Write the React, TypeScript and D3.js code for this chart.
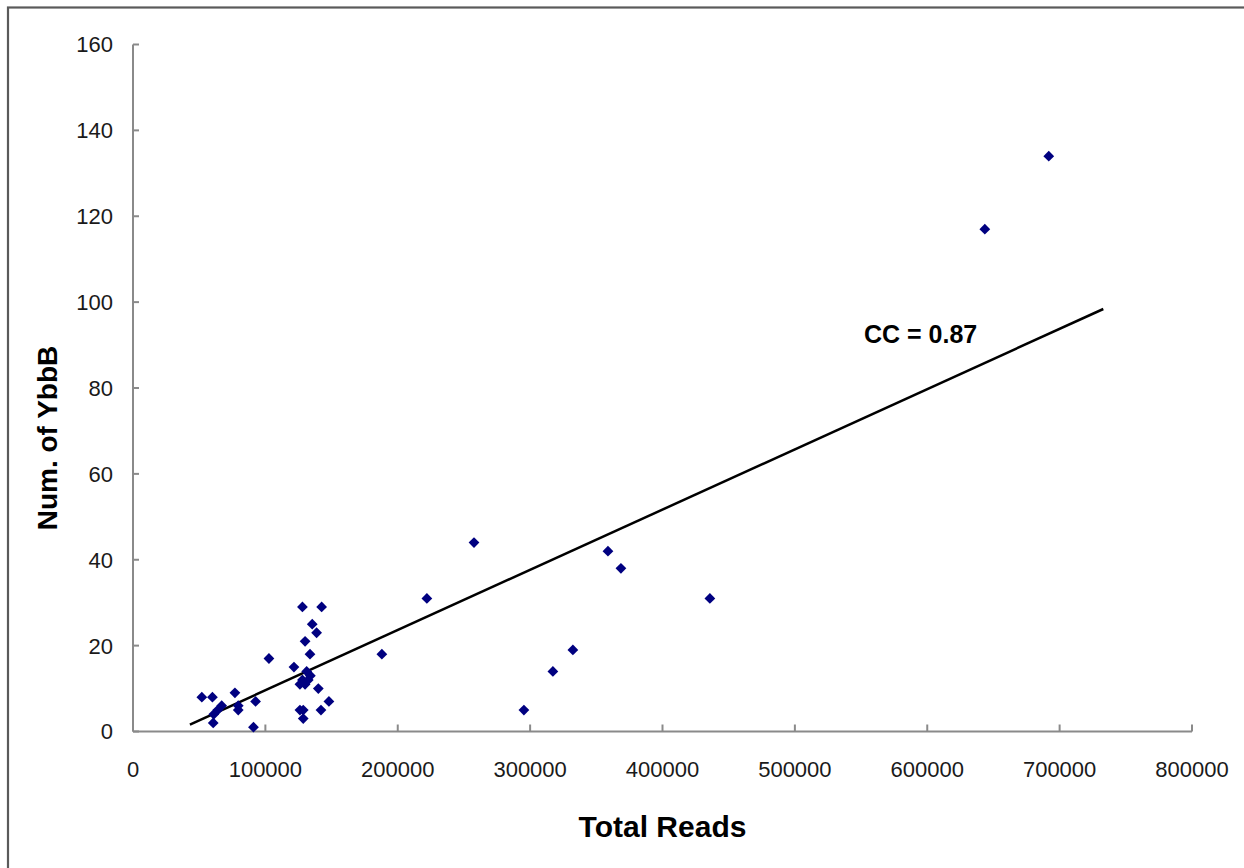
import React from "react";
import * as d3 from "d3";

const totalReads = [
  52000, 60000, 77000, 67000, 64000, 61000, 79500, 79500, 92600, 60600, 91000,
  102700,
  128000, 142500, 135400, 138700, 130000, 133700, 121600, 131200, 126100, 130000,
  132400, 134000, 128000, 140000, 148000, 142000, 126100, 128600, 128600,
  188000, 222000, 257600, 295300, 317200, 332300, 358800, 368600, 435800, 643500, 691800,
];
const numYbbB = [
  8, 8, 9, 6, 5, 4, 6, 5, 7, 2, 1,
  17,
  29, 29, 25, 23, 21, 18, 15, 14, 11, 11,
  12, 13, 12, 10, 7, 5, 5, 5, 3,
  18, 31, 44, 5, 14, 19, 42, 38, 31, 117, 134,
];
const trendX = [43000, 733000];
const trendY = [1.6, 98.4];
const xTicks = [0, 100000, 200000, 300000, 400000, 500000, 600000, 700000, 800000];
const yTicks = [0, 20, 40, 60, 80, 100, 120, 140, 160];
const ccLabel = "CC = 0.87";
const xTitle = "Total Reads";
const yTitle = "Num. of YbbB";

const W = 1244;
const H = 868;
const FONT = "'Liberation Sans', Arial, sans-serif";

export default function App() {
  const x = d3.scaleLinear().domain([0, 800000]).range([133, 1192]);
  const y = d3.scaleLinear().domain([0, 160]).range([731.5, 44.5]);
  const axisColor = "#8a8a8a";
  const diamond = d3.symbol().type(d3.symbolSquare).size(58)() as string;
  const line = d3
    .line<number>()
    .x((_, i) => x(trendX[i]))
    .y((d) => y(d));

  return (
    <svg
      width={W}
      height={H}
      style={{ position: "absolute", left: 0, top: 0, background: "#fff" }}
      fontFamily={FONT}
    >
      <rect x={0} y={0} width={W} height={H} fill="#fff" />
      <rect x={8} y={7.5} width={W + 20} height={H + 20} fill="none" stroke="#5a5a5a" strokeWidth={2.2} />

      {/* y axis */}
      <line x1={x(0)} x2={x(0)} y1={y(160)} y2={y(0)} stroke={axisColor} strokeWidth={2} />
      {yTicks.map((t) => (
        <g key={"y" + t}>
          <line x1={x(0)} x2={x(0) + 6} y1={y(t)} y2={y(t)} stroke={axisColor} strokeWidth={2} />
          <text x={113} y={y(t)} dy="0.36em" textAnchor="end" fontSize={22} fill="#1a1a1a">
            {t}
          </text>
        </g>
      ))}

      {/* x axis */}
      <line x1={x(0)} x2={x(800000)} y1={y(0)} y2={y(0)} stroke={axisColor} strokeWidth={2} />
      {xTicks.map((t) => (
        <g key={"x" + t}>
          <line x1={x(t)} x2={x(t)} y1={y(0)} y2={y(0) - 7} stroke={axisColor} strokeWidth={2} />
          <text x={x(t)} y={777} textAnchor="middle" fontSize={22} fill="#1a1a1a">
            {t}
          </text>
        </g>
      ))}

      {/* trend line */}
      <path d={line(trendY) || ""} fill="none" stroke="#000" strokeWidth={2.5} />

      {/* points */}
      {totalReads.map((v, i) => (
        <path
          key={"p" + i}
          d={diamond}
          transform={`translate(${x(v)},${y(numYbbB[i])}) rotate(45)`}
          fill="#000080"
        />
      ))}

      <text x={864} y={343} fontSize={25} fontWeight="bold" fill="#000">
        {ccLabel}
      </text>

      <text x={662.5} y={836.5} textAnchor="middle" fontSize={30} fontWeight="bold" fill="#000">
        {xTitle}
      </text>
      <text
        transform={`translate(57,438) rotate(-90)`}
        textAnchor="middle"
        fontSize={28}
        fontWeight="bold"
        fill="#000"
      >
        {yTitle}
      </text>
    </svg>
  );
}
